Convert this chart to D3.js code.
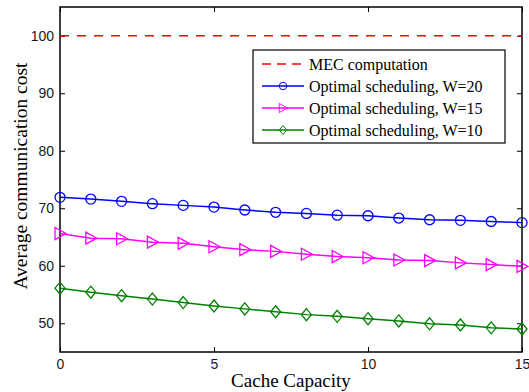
<!DOCTYPE html>
<html>
<head>
<meta charset="utf-8">
<script src="https://cdn.jsdelivr.net/npm/d3@7"></script>
<style>
body { margin: 0; background: #fff; }
</style>
</head>
<body>
<div id="chart"></div>
<script>
// cache capacity on the x axis
const capacity = [0, 1, 2, 3, 4, 5, 6, 7, 8, 9, 10, 11, 12, 13, 14, 15];
const mecCost = 100;
const w20 = [71.9, 71.6, 71.2, 70.8, 70.5, 70.2, 69.7, 69.3, 69.1, 68.8, 68.7, 68.3, 68.0, 67.9, 67.7, 67.5];
const w15 = [65.6, 64.8, 64.7, 64.1, 63.9, 63.3, 62.8, 62.5, 62.0, 61.6, 61.4, 61.0, 60.9, 60.5, 60.2, 59.9];
const w10 = [56.1, 55.4, 54.8, 54.2, 53.6, 53.0, 52.5, 52.0, 51.5, 51.2, 50.8, 50.4, 49.9, 49.7, 49.2, 49.0];
const xTicks = [0, 5, 10, 15];
const yTicks = [50, 60, 70, 80, 90, 100];
const legendLabels = ["MEC computation", "Optimal scheduling, W=20", "Optimal scheduling, W=15", "Optimal scheduling, W=10"];

const svgWidth = 529, svgHeight = 392;
const margin = {left: 60, right: 7, top: 7, bottom: 40};
const chartWidth = svgWidth - margin.left - margin.right;
const chartHeight = svgHeight - margin.top - margin.bottom;

var svg = d3.select("#chart")
    .append("svg")
    .attr("width", svgWidth)
    .attr("height", svgHeight);
var g = svg.append("g")
    .attr("transform", `translate(${margin.left}, ${margin.top})`);

const x = d3.scaleLinear().domain([0, 15]).range([0, chartWidth]);
const y = d3.scaleLinear().domain([45, 105]).range([chartHeight, 0]);

// axes, ticks pointing inward on all four sides
const tickFont = "'Liberation Sans', Arial, sans-serif";
function style_axis(sel) {
    sel.select(".domain").remove();
    sel.selectAll("line").attr("stroke", "#000");
    sel.selectAll("text").attr("fill", "#1a1a1a").style("font-family", tickFont).style("font-size", "14px");
}
g.append("g")
    .attr("transform", `translate(0, ${chartHeight})`)
    .call(d3.axisBottom(x).tickValues(xTicks).tickSize(-5).tickPadding(7))
    .call(style_axis);
g.append("g")
    .call(d3.axisLeft(y).tickValues(yTicks).tickSize(-5).tickPadding(6))
    .call(style_axis);
g.append("g")
    .attr("transform", `translate(${chartWidth}, 0)`)
    .call(d3.axisRight(y).tickValues(yTicks).tickSize(-5).tickFormat(""))
    .call(style_axis);
g.append("g")
    .call(d3.axisTop(x).tickValues(xTicks).tickSize(-5).tickFormat(""))
    .call(style_axis);

g.append("rect")
    .attr("width", chartWidth)
    .attr("height", chartHeight)
    .attr("fill", "none")
    .attr("stroke", "#000")
    .attr("stroke-width", 1.5);

// MEC baseline
g.append("line")
    .attr("x1", x(0)).attr("x2", x(15))
    .attr("y1", y(mecCost)).attr("y2", y(mecCost))
    .attr("stroke", "#ff0000")
    .attr("stroke-width", 1.3)
    .attr("stroke-dasharray", "9,8");

const series = [
    {vals: w20, color: "#0000ff", marker: "circle"},
    {vals: w15, color: "#ff00ff", marker: "triangle"},
    {vals: w10, color: "#008000", marker: "diamond"}
];

function draw_marker(sel, kind, color) {
    if (kind == "circle") {
        sel.append("circle").attr("r", 5);
    } else if (kind == "triangle") {
        sel.append("path").attr("d", "M-5,-6L6,0L-5,6Z");
    } else {
        sel.append("path").attr("d", "M0,-6L5,0L0,6L-5,0Z");
    }
    sel.selectAll("circle,path")
        .attr("fill", "none")
        .attr("stroke", color)
        .attr("stroke-width", 1.3);
}

const line = d3.line()
    .x((d, i) => x(capacity[i]))
    .y(d => y(d));

series.forEach(s => {
    g.append("path")
        .attr("d", line(s.vals))
        .attr("fill", "none")
        .attr("stroke", s.color)
        .attr("stroke-width", 1.5);
    g.selectAll(null)
        .data(s.vals)
        .join("g")
        .attr("transform", (d, i) => `translate(${x(capacity[i])}, ${y(d)})`)
        .each(function() { draw_marker(d3.select(this), s.marker, s.color); });
});

// legend
const legend = svg.append("g").attr("transform", "translate(253, 50)");
legend.append("rect")
    .attr("width", 252)
    .attr("height", 93)
    .attr("fill", "#fff")
    .attr("stroke", "#000")
    .attr("stroke-width", 1.2);
const legendColors = ["#ff0000", "#0000ff", "#ff00ff", "#008000"];
const legendMarkers = [null, "circle", "triangle", "diamond"];
var item = legend.selectAll(".legend")
    .data(legendLabels)
    .join("g")
    .attr("class", "legend")
    .attr("transform", (d, i) => `translate(0, ${14 + i * 22})`);
item.append("line")
    .attr("x1", 9).attr("x2", 51)
    .attr("stroke", (d, i) => legendColors[i])
    .attr("stroke-width", (d, i) => i == 0 ? 1.3 : 1.5)
    .attr("stroke-dasharray", (d, i) => i == 0 ? "9,6" : null);
item.each(function(d, i) {
    if (legendMarkers[i]) {
        var m = d3.select(this).append("g").attr("transform", "translate(30, 0) scale(0.75)");
        draw_marker(m, legendMarkers[i], legendColors[i]);
    }
});
item.append("text")
    .text(d => d)
    .attr("x", 56)
    .attr("dy", "0.35em")
    .style("font-family", "'Liberation Serif', 'Times New Roman', serif")
    .style("font-size", "16px")
    .attr("fill", "#000");

// axis titles
svg.append("text")
    .text("Cache Capacity")
    .attr("x", margin.left + chartWidth / 2)
    .attr("y", 387)
    .style("text-anchor", "middle")
    .style("font-family", "'Liberation Serif', 'Times New Roman', serif")
    .style("font-size", "19px");
svg.append("text")
    .text("Average communication cost")
    .attr("transform", "translate(27, 176) rotate(-90)")
    .style("text-anchor", "middle")
    .style("font-family", "'Liberation Serif', 'Times New Roman', serif")
    .style("font-size", "19.5px");
</script>
</body>
</html>
